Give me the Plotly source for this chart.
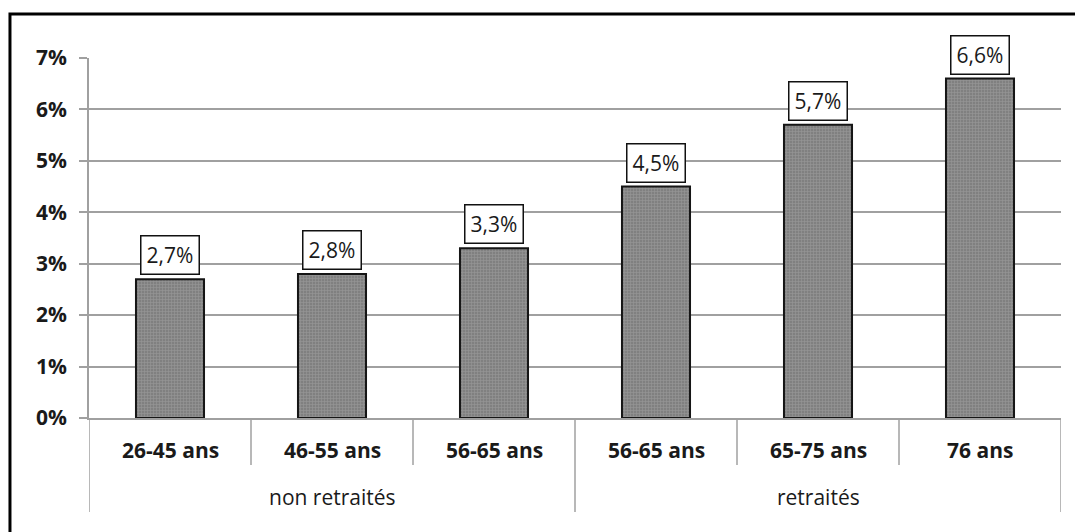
import plotly.graph_objects as go

# Age brackets, grouped by retirement status
groups = ["non retraités", "retraités"]
group_of = [0, 0, 0, 1, 1, 1]
ages = ["26-45 ans", "46-55 ans", "56-65 ans", "56-65 ans", "65-75 ans", "76 ans"]
rates = [2.7, 2.8, 3.3, 4.5, 5.7, 6.6]  # percent
y_ticks = [0, 1, 2, 3, 4, 5, 6, 7]
y_tick_labels = [f"{t}%" for t in y_ticks]

FONT = "Open Sans"
TXT = "#1a1a1a"
GRID = "#a0a0a0"

xs = list(range(len(ages)))

fig = go.Figure()
fig.add_trace(go.Bar(
    x=xs,
    y=rates,
    width=0.42,
    marker=dict(
        color="#8a8a8a",
        line=dict(color="#151515", width=2),
        pattern=dict(shape="+", fgcolor="#b0b0b0", bgcolor="#808080", size=3, solidity=0.35),
    ),
    hoverinfo="skip",
    showlegend=False,
))

annotations = []
# value boxes above each bar
for x, v in zip(xs, rates):
    annotations.append(dict(
        x=x, y=v, xref="x", yref="y",
        text=f"{v:.1f}".replace(".", ",") + "%",
        showarrow=False, yanchor="bottom", yshift=4,
        font=dict(family=FONT, size=21, color=TXT),
        bgcolor="white", bordercolor="#111111", borderwidth=1.5, borderpad=2,
        width=53, height=33,
    ))

# category labels
for x, a in zip(xs, ages):
    annotations.append(dict(
        x=x, y=-0.089, xref="x", yref="paper",
        text=f"<b>{a}</b>", showarrow=False, yanchor="middle",
        font=dict(family=FONT, size=21, color=TXT),
    ))

# group labels, centred under their categories
for g, name in enumerate(groups):
    members = [x for x, gi in zip(xs, group_of) if gi == g]
    annotations.append(dict(
        x=sum(members) / len(members), y=-0.219, xref="x", yref="paper",
        text=name, showarrow=False, yanchor="middle",
        font=dict(family=FONT, size=21, color=TXT),
    ))

shapes = []
# separators between categories and between groups
for i in range(len(ages) + 1):
    b = i - 0.5
    is_group_edge = i == 0 or i == len(ages) or group_of[i - 1] != group_of[i]
    shapes.append(dict(
        type="line", xref="x", yref="paper",
        x0=b, x1=b, y0=0, y1=-0.261 if is_group_edge else -0.1306,
        line=dict(color=GRID, width=1.5),
    ))
# outer frame
shapes.append(dict(
    type="rect", xref="paper", yref="paper",
    x0=-0.0813, x1=1.03, y0=-0.35, y1=1.1225,
    line=dict(color="black", width=3),
))

fig.update_layout(
    width=1075, height=532,
    margin=dict(l=89, r=14, t=58, b=114),
    paper_bgcolor="white", plot_bgcolor="white",
    annotations=annotations,
    shapes=shapes,
    xaxis=dict(
        range=[-0.5, len(ages) - 0.5],
        showticklabels=False, ticks="", showgrid=False, zeroline=False,
        showline=True, linecolor=GRID, linewidth=1.5,
    ),
    yaxis=dict(
        range=[0, 7], tickmode="array", tickvals=y_ticks, ticktext=y_tick_labels,
        tickfont=dict(family=FONT, size=21, color=TXT, weight="bold"),
        showgrid=True, gridcolor=GRID, gridwidth=1.5,
        ticks="outside", ticklen=8, tickcolor=GRID, tickwidth=1.5,
        ticklabelstandoff=8,
        showline=True, linecolor=GRID, linewidth=1.5,
        zeroline=False,
    ),
)

fig.write_html("out.html")
